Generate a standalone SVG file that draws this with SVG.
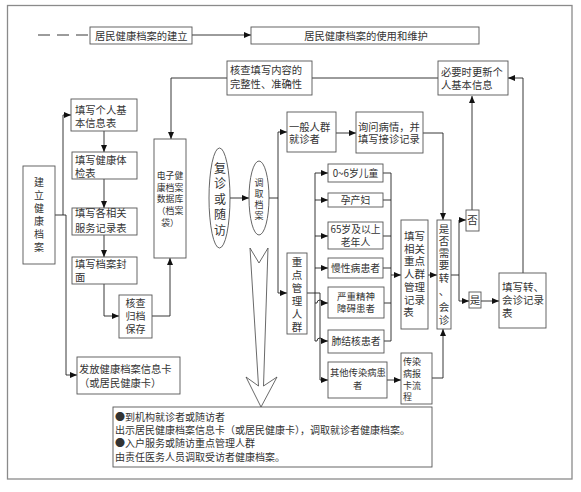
<svg xmlns="http://www.w3.org/2000/svg" width="581" height="492" viewBox="0 0 581 492">
<style>
.box{fill:#fff;stroke:#555;stroke-width:0.9}
.t{font-family:"Noto Sans CJK SC","Liberation Sans",sans-serif;fill:#333;font-size:10.3px}
.m{text-anchor:middle}
.c{fill:none;stroke:#222;stroke-width:0.9}
.a{marker-end:url(#ah)}
</style>
<defs>
<marker id="ah" markerUnits="userSpaceOnUse" markerWidth="7" markerHeight="6" refX="7" refY="3" orient="auto">
<path d="M0,0 L7,3 L0,6 z" fill="#111"/>
</marker>
</defs>
<rect x="7.5" y="5.5" width="564.5" height="473.5" fill="#fff" stroke="#8a8a8a" stroke-width="1.3"/>
<g id="connectors">
<path class="c" d="M38,35 H90" stroke-dasharray="12,7"/>
<path class="c a" d="M192,35 H251"/>
<path class="c a" d="M438,78 H171 V139"/>
<path class="c a" d="M523,273 V78 H508"/>
<path class="c a" d="M472,210 V96"/>
<path class="c a" d="M55,215 H63 V115 H71"/>
<path class="c a" d="M63,215 H66 V375 H77"/>
<path class="c a" d="M104,131 V152"/>
<path class="c a" d="M104,179 V208"/>
<path class="c a" d="M104,235 V257"/>
<path class="c a" d="M104,284 V316 H119"/>
<path class="c a" d="M152,316 H170 V258"/>
<path class="c a" d="M230,198 H249"/>
<path class="c a" d="M269,198 H278 V132 H287"/>
<path class="c a" d="M278,198 V293 H287"/>
<path class="c a" d="M336,133 H356"/>
<path class="c a" d="M423,133 H443 V220"/>
<path class="c a" d="M307,293 H320 V380 H328"/>
<path class="c" d="M315,173 V341"/>
<path class="c a" d="M315,173 H328"/>
<path class="c a" d="M315,200 H328"/>
<path class="c a" d="M315,236 H328"/>
<path class="c a" d="M315,268 H328"/>
<path class="c a" d="M315,303 H317 A3,3 0 0 1 323,303 H328"/>
<path class="c a" d="M315,341 H317 A3,3 0 0 1 323,341 H328"/>
<path class="c" d="M383,173 H391 M383,200 H391 M383,236 H391 M383,268 H391 M384,303 H391 M384,341 H391 M391,173 V341"/>
<path class="c a" d="M391,275 H401"/>
<path class="c a" d="M428,275 H437"/>
<path class="c a" d="M387,380 H401"/>
<path class="c a" d="M432,378 H443 V329"/>
<path class="c" d="M451,275 H459 M459,220 V301"/>
<path class="c a" d="M459,220 H466"/>
<path class="c a" d="M459,301 H469"/>
<path class="c a" d="M481,301 H499"/>
</g>
<g id="n-build-top"><rect class="box" x="90" y="27" width="102" height="17"/><text class="t" x="95" y="39.5">居民健康档案的建立</text></g>
<g id="n-use-top"><rect class="box" x="251" y="27" width="228" height="17"/><text class="t m" x="366" y="39.5">居民健康档案的使用和维护</text></g>
<g id="n-check"><rect class="box" x="227" y="61" width="85" height="34"/><text class="t" x="230" y="74">核查填写内容的</text><text class="t" x="230" y="87.5">完整性、准确性</text></g>
<g id="n-update"><rect class="box" x="438" y="61" width="70" height="34"/><text class="t" x="441" y="76">必要时更新个</text><text class="t" x="441" y="89">人基本信息</text></g>
<g id="n-build"><rect class="box" x="23" y="166" width="32" height="98"/>
<text class="t m" style="font-size:10px"><tspan x="39" y="186">建</tspan><tspan x="39" y="199">立</tspan><tspan x="39" y="212">健</tspan><tspan x="39" y="225">康</tspan><tspan x="39" y="238">档</tspan><tspan x="39" y="251">案</tspan></text></g>
<g id="n-personal"><rect class="box" x="71" y="99" width="66" height="32"/><text class="t" x="75" y="114">填写个人基</text><text class="t" x="75" y="127">本信息表</text></g>
<g id="n-exam"><rect class="box" x="72" y="152" width="65" height="27"/><text class="t" x="75" y="164">填写健康体</text><text class="t" x="75" y="177">检表</text></g>
<g id="n-service"><rect class="box" x="72" y="208" width="65" height="27"/><text class="t" x="75" y="217">填写各相关</text><text class="t" x="75" y="232">服务记录表</text></g>
<g id="n-cover"><rect class="box" x="72" y="257" width="65" height="27"/><text class="t" x="75" y="268">填写档案封</text><text class="t" x="75" y="281">面</text></g>
<g id="n-archive"><rect class="box" x="119" y="295" width="33" height="43"/><text class="t m" style="font-size:10px"><tspan x="135.5" y="307">核查</tspan><tspan x="135.5" y="320">归档</tspan><tspan x="135.5" y="333">保存</tspan></text></g>
<g id="n-ehr"><rect class="box" x="154" y="139" width="32" height="119"/><text class="t m" style="font-size:8.8px"><tspan x="170" y="179">电子健</tspan><tspan x="170" y="190.5">康档案</tspan><tspan x="170" y="202">数据库</tspan><tspan x="170" y="214">（档案</tspan><tspan x="170" y="226">袋）</tspan></text></g>
<g id="n-revisit"><ellipse class="box" cx="219.5" cy="198" rx="10.5" ry="50"/><text class="t m" style="font-size:12px"><tspan x="220" y="172.5">复</tspan><tspan x="220" y="188">诊</tspan><tspan x="220" y="203.5">或</tspan><tspan x="220" y="219">随</tspan><tspan x="220" y="234.5">访</tspan></text></g>
<g id="n-retrieve"><ellipse class="box" cx="259" cy="198" rx="10" ry="37"/><text class="t m" style="font-size:9px"><tspan x="259" y="185.5">调</tspan><tspan x="259" y="196.5">取</tspan><tspan x="259" y="207.5">档</tspan><tspan x="259" y="218.5">案</tspan></text></g>
<g id="n-general"><rect class="box" x="287" y="112" width="49" height="40"/><text class="t" x="289" y="131">一般人群</text><text class="t" x="289" y="143">就诊者</text></g>
<g id="n-inquire"><rect class="box" x="356" y="112" width="67" height="41"/><text class="t" x="358" y="131">询问病情，并</text><text class="t" x="358" y="143">填写接诊记录</text></g>
<g id="n-key"><rect class="box" x="287" y="253" width="20" height="81"/><text class="t m" style="font-size:10.5px"><tspan x="297" y="266">重</tspan><tspan x="297" y="279">点</tspan><tspan x="297" y="292">管</tspan><tspan x="297" y="305">理</tspan><tspan x="297" y="318">人</tspan><tspan x="297" y="331">群</tspan></text></g>
<g id="n-child"><rect class="box" x="328" y="164" width="55" height="18"/><text class="t m" style="font-size:9.8px" x="355.5" y="176.5">0~6岁儿童</text></g>
<g id="n-pregnant"><rect class="box" x="328" y="193" width="55" height="14"/><text class="t m" style="font-size:9.8px" x="355.5" y="203.5">孕产妇</text></g>
<g id="n-elderly"><rect class="box" x="328" y="222" width="55" height="27"/><text class="t m" style="font-size:9.8px"><tspan x="355.5" y="232.5">65岁及以上</tspan><tspan x="355.5" y="245.5">老年人</tspan></text></g>
<g id="n-chronic"><rect class="box" x="328" y="258" width="55" height="20"/><text class="t m" style="font-size:9.8px" x="355.5" y="271.5">慢性病患者</text></g>
<g id="n-mental"><rect class="box" x="328" y="287" width="56" height="31"/><text class="t m" style="font-size:9.5px"><tspan x="356" y="299.5">严重精神</tspan><tspan x="356" y="311.5">障碍患者</tspan></text></g>
<g id="n-tb"><rect class="box" x="328" y="330" width="56" height="23"/><text class="t m" style="font-size:9.8px" x="356" y="344.5">肺结核患者</text></g>
<g id="n-other"><rect class="box" x="328" y="362" width="59" height="36"/><text class="t" style="font-size:9.3px"><tspan x="330" y="375.5">其他传染病患</tspan><tspan x="353" y="388.5">者</tspan></text></g>
<g id="n-record"><rect class="box" x="401" y="220" width="27" height="109"/><text class="t m" style="font-size:10.5px"><tspan x="414.5" y="240">填写</tspan><tspan x="414.5" y="252.7">相关</tspan><tspan x="414.5" y="265.4">重点</tspan><tspan x="414.5" y="278.1">人群</tspan><tspan x="414.5" y="290.8">管理</tspan><tspan x="414.5" y="303.5">记录</tspan><tspan x="408.5" y="316.2">表</tspan></text></g>
<g id="n-need"><rect class="box" x="437" y="220" width="14" height="109"/><text class="t m" style="font-size:10.5px"><tspan x="444" y="233">是</tspan><tspan x="444" y="245">否</tspan><tspan x="444" y="257">需</tspan><tspan x="444" y="269">要</tspan><tspan x="444" y="282">转</tspan><tspan x="444" y="295">、</tspan><tspan x="444" y="311">会</tspan><tspan x="444" y="324">诊</tspan></text></g>
<g id="n-no"><rect class="box" x="466" y="210" width="13" height="21"/><text class="t m" style="font-size:10.5px" x="472.5" y="224">否</text></g>
<g id="n-yes"><rect class="box" x="469" y="292" width="12" height="16" stroke-width="1.5"/><text class="t m" style="font-size:10.5px" x="475" y="304">是</text></g>
<g id="n-referral"><rect class="box" x="499" y="273" width="47" height="55"/><text class="t" style="font-size:10.5px"><tspan x="502" y="291">填写转、</tspan><tspan x="502" y="304">会诊记录</tspan><tspan x="502" y="317">表</tspan></text></g>
<g id="n-report"><rect class="box" x="401" y="353" width="31" height="51"/><text class="t" style="font-size:9px"><tspan x="403" y="364.5">传染</tspan><tspan x="403" y="376.5">病报</tspan><tspan x="403" y="388.5">卡流</tspan><tspan x="403" y="399.5">程</tspan></text></g>
<g id="n-card"><rect class="box" x="77" y="357" width="103" height="37"/><text class="t" x="79" y="373">发放健康档案信息卡</text><text class="t" x="79" y="387">（或居民健康卡）</text></g>
<g id="n-bigarrow"><polygon points="250,248 259,263 268,248 263.5,386 277,377 261,407 246,377 258.5,386" fill="#fff" stroke="#444" stroke-width="0.8"/></g>
<g id="n-note"><rect class="box" x="113" y="407" width="319" height="60"/><text class="t" style="font-size:10px"><tspan x="115" y="421">●到机构就诊者或随访者</tspan><tspan x="115" y="434">出示居民健康档案信息卡（或居民健康卡），调取就诊者健康档案。</tspan><tspan x="115" y="447">●入户服务或随访重点管理人群</tspan><tspan x="115" y="461">由责任医务人员调取受访者健康档案。</tspan></text></g>
</svg>
